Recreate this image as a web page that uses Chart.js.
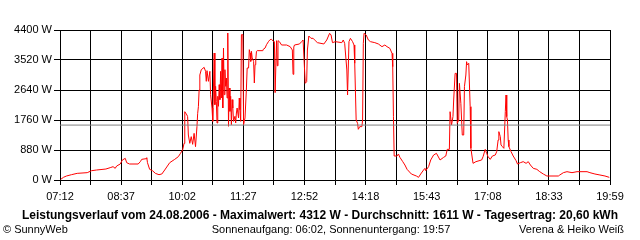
<!DOCTYPE html>
<html>
<head>
<meta charset="utf-8">
<script src="https://cdn.jsdelivr.net/npm/chart.js@4/dist/chart.umd.min.js"></script>
<style>
  html, body { margin: 0; padding: 0; background: #fff; }
</style>
</head>
<body>
<canvas id="powerChart" width="640" height="240"></canvas>
<script>
// x axis labels (every second grid line carries a label)
const timeLabels = ["07:12", "08:37", "10:02", "11:27", "12:52", "14:18", "15:43", "17:08", "18:33", "19:59"];
const startMin = 7 * 60 + 12;
const endMin = 19 * 60 + 59;

// y axis
const yMax = 4400;
const yStep = 880;

// power readings
const times = [
  "07:13","07:17","07:21","07:28","07:36","07:50","07:56","08:03","08:16","08:22",
  "08:26","08:29","08:31","08:36","08:39","08:43","08:45","08:49","09:01","09:04",
  "09:06","09:12","09:13","09:14","09:17","09:21","09:25","09:30","09:34","09:38",
  "09:45","09:52","09:57","10:00","10:03","10:05","10:06","10:09","10:10","10:11",
  "10:13","10:15","10:17","10:19","10:21","10:23","10:24","10:25","10:26","10:27",
  "10:29","10:33","10:35","10:36","10:37","10:39","10:41","10:42","10:44","10:45",
  "10:47","10:48","10:49","10:50","10:51","10:52","10:53","10:54","10:55","10:56",
  "10:57","10:58","10:59","11:00","11:01","11:02","11:03","11:04","11:05","11:06",
  "11:07","11:08","11:09","11:10","11:11","11:12","11:13","11:14","11:16","11:17",
  "11:18","11:19","11:21","11:22","11:23","11:24","11:25","11:27","11:28","11:29",
  "11:30","11:32","11:33","11:35","11:36","11:37","11:38","11:39","11:40","11:42",
  "11:43","11:44","11:45","11:46","11:47","11:54","11:55","11:58","12:00","12:03",
  "12:05","12:07","12:10","12:11","12:12","12:14","12:15","12:16","12:18","12:21",
  "12:28","12:33","12:36","12:37","12:38","12:39","12:46","12:49","12:51","12:54",
  "12:56","12:57","12:59","13:02","13:05","13:08","13:11","13:20","13:24","13:28",
  "13:30","13:32","13:36","13:45","13:47","13:49","13:52","13:53","13:55","13:57",
  "14:00","14:02","14:03","14:05","14:07","14:08","14:10","14:13","14:14","14:15",
  "14:16","14:19","14:22","14:25","14:31","14:36","14:41","14:45","14:48","14:52",
  "14:55","14:56","14:57","14:58","15:02","15:04","15:06","15:10","15:13","15:16",
  "15:22","15:29","15:32","15:35","15:39","15:41","15:42","15:46","15:49","15:53",
  "15:57","16:02","16:07","16:10","16:12","16:15","16:16","16:18","16:20","16:21",
  "16:23","16:25","16:26","16:28","16:29","16:31","16:33","16:35","16:36","16:38",
  "16:39","16:40","16:42","16:44","16:45","16:48","16:52","17:00","17:02","17:05",
  "17:07","17:09","17:12","17:15","17:19","17:21","17:23","17:24","17:26","17:27",
  "17:29","17:31","17:33","17:34","17:35","17:36","17:37","17:38","17:41","17:44",
  "17:48","17:50","17:54","17:58","18:02","18:05","18:08","18:12","18:17","18:21",
  "18:26","18:31","18:47","18:49","18:54","18:59","19:06","19:13","19:27","19:31",
  "19:38","19:45","19:52","19:58"
];
const watts = [
  20, 80, 117, 156, 195, 215, 273, 293, 322, 362,
  391, 342, 410, 469, 587, 635, 508, 469, 469, 538,
  606, 625, 655, 508, 313, 273, 195, 156, 176, 293,
  508, 606, 684, 782, 880, 1075, 2004, 1907, 1858, 1320,
  1075, 1271, 1046, 1369, 978, 1565, 1956, 2151, 2640, 3080,
  3236, 3305, 3187, 2894, 3207, 2894, 3187, 2503, 2112, 1721,
  3725, 2210, 2748, 2308, 1672, 2455, 2162, 2796, 2357, 3187,
  2405, 3579, 2112, 3872, 2503, 3236, 2748, 2992, 2405, 4312,
  1575, 2699, 2015, 2455, 1623, 2357, 2112, 1721, 1868, 1672,
  1965, 2112, 1819, 2405, 2062, 1721, 4263, 4263, 1623, 1721,
  1819, 2699, 3285, 3285, 3823, 3725, 3480, 3774, 3579, 3480,
  2845, 3383, 3529, 3774, 3794, 3794, 3823, 3872, 3970, 4068,
  4117, 4127, 4058, 4058, 2562, 4087, 3350, 4087, 4058, 3960,
  3960, 3911, 3813, 3100, 3900, 3960, 3990, 4058, 4107, 2836,
  2884, 3813, 4224, 4156, 4156, 4087, 4029, 3990, 4107, 4303,
  4253, 4029, 4058, 4029, 4107, 4009, 3227, 2493, 4058, 4156,
  4058, 3960, 3423, 1760, 1662, 1487, 1565, 1565, 1760, 4009,
  4303, 4253, 4107, 4058, 4029, 3990, 3911, 3960, 3911, 3862,
  3716, 3325, 1858, 704, 704, 763, 665, 538, 440, 313,
  176, 117, 78, 176, 293, 342, 273, 391, 587, 733,
  782, 587, 665, 704, 899, 899, 2004, 1613, 1858, 2347,
  3128, 3128, 1662, 1760, 2836, 2250, 1320, 1320, 2738, 3080,
  3471, 3374, 3423, 2151, 929, 489, 538, 587, 684, 899,
  782, 684, 606, 704, 733, 831, 1173, 1418, 1271, 1027,
  978, 929, 2004, 2493, 1858, 1760, 1173, 978, 831, 704,
  567, 469, 508, 538, 489, 538, 440, 342, 313, 244,
  176, 117, 117, 147, 215, 244, 215, 244, 244, 215,
  176, 147, 117, 78
];
const average = 1611;

const titleText = "Leistungsverlauf vom 24.08.2006 - Maximalwert: 4312 W - Durchschnitt: 1611 W - Tagesertrag: 20,60 kWh";
const leftNote = "\u00A9 SunnyWeb";
const centerNote = "Sonnenaufgang: 06:02, Sonnenuntergang: 19:57";
const rightNote = "Verena & Heiko Wei\u00DF";

function toMin(t) {
    const [h, m] = t.split(":").map(v => parseInt(v));
    return h * 60 + m;
}

const points = times.map((t, i) => ({x: toMin(t), y: watts[i]}));
const avgLine = [{x: startMin, y: average}, {x: endMin, y: average}];

const fontFamily = '"Liberation Sans", Arial, sans-serif';

// bottom texts
const footerText = {
    id: 'footerText',
    afterDraw(chart) {
        const ctx = chart.ctx;
        ctx.save();
        ctx.fillStyle = '#000';
        ctx.textBaseline = 'middle';
        ctx.font = 'bold 12px ' + fontFamily;
        ctx.textAlign = 'center';
        ctx.fillText(titleText, 320, 216);
        ctx.font = '11px ' + fontFamily;
        ctx.textAlign = 'left';
        ctx.fillText(leftNote, 3, 230);
        ctx.textAlign = 'center';
        ctx.fillText(centerNote, 331, 230);
        ctx.textAlign = 'right';
        ctx.fillText(rightNote, 624, 230);
        ctx.restore();
    }
};

new Chart("powerChart", {
    type: "line",
    data: {
        datasets: [{
            data: avgLine,
            borderColor: "#808080",
            borderWidth: 1,
            pointRadius: 0,
            order: 0
        }, {
            data: points,
            borderColor: "#ff0000",
            borderWidth: 1,
            pointRadius: 0,
            tension: 0,
            order: 1
        }]
    },
    options: {
        responsive: false,
        animation: false,
        layout: {padding: {top: 30, right: 30, bottom: 0, left: 0}},
        plugins: {
            legend: {display: false},
            tooltip: {enabled: false}
        },
        scales: {
            x: {
                type: "linear",
                min: startMin,
                max: endMin,
                afterBuildTicks: scale => {
                    const step = (endMin - startMin) / 18;
                    scale.ticks = [];
                    for (let i = 0; i <= 18; i++) scale.ticks.push({value: startMin + i * step});
                },
                afterFit: scale => { scale.height = 60; },
                grid: {color: "#000", lineWidth: 1, tickLength: 5},
                border: {color: "#000"},
                ticks: {
                    autoSkip: false,
                    maxRotation: 0,
                    padding: 5,
                    color: "#000",
                    font: {family: fontFamily, size: 11},
                    callback: (value, index) => index % 2 == 0 ? timeLabels[index / 2] : ""
                }
            },
            y: {
                min: 0,
                max: yMax,
                afterFit: scale => { scale.width = 60; },
                grid: {color: "#000", lineWidth: 1, tickLength: 6},
                border: {color: "#000"},
                ticks: {
                    stepSize: yStep,
                    padding: 2,
                    color: "#000",
                    font: {family: fontFamily, size: 11},
                    callback: value => value + " W"
                }
            }
        }
    },
    plugins: [footerText]
});
</script>
</body>
</html>
